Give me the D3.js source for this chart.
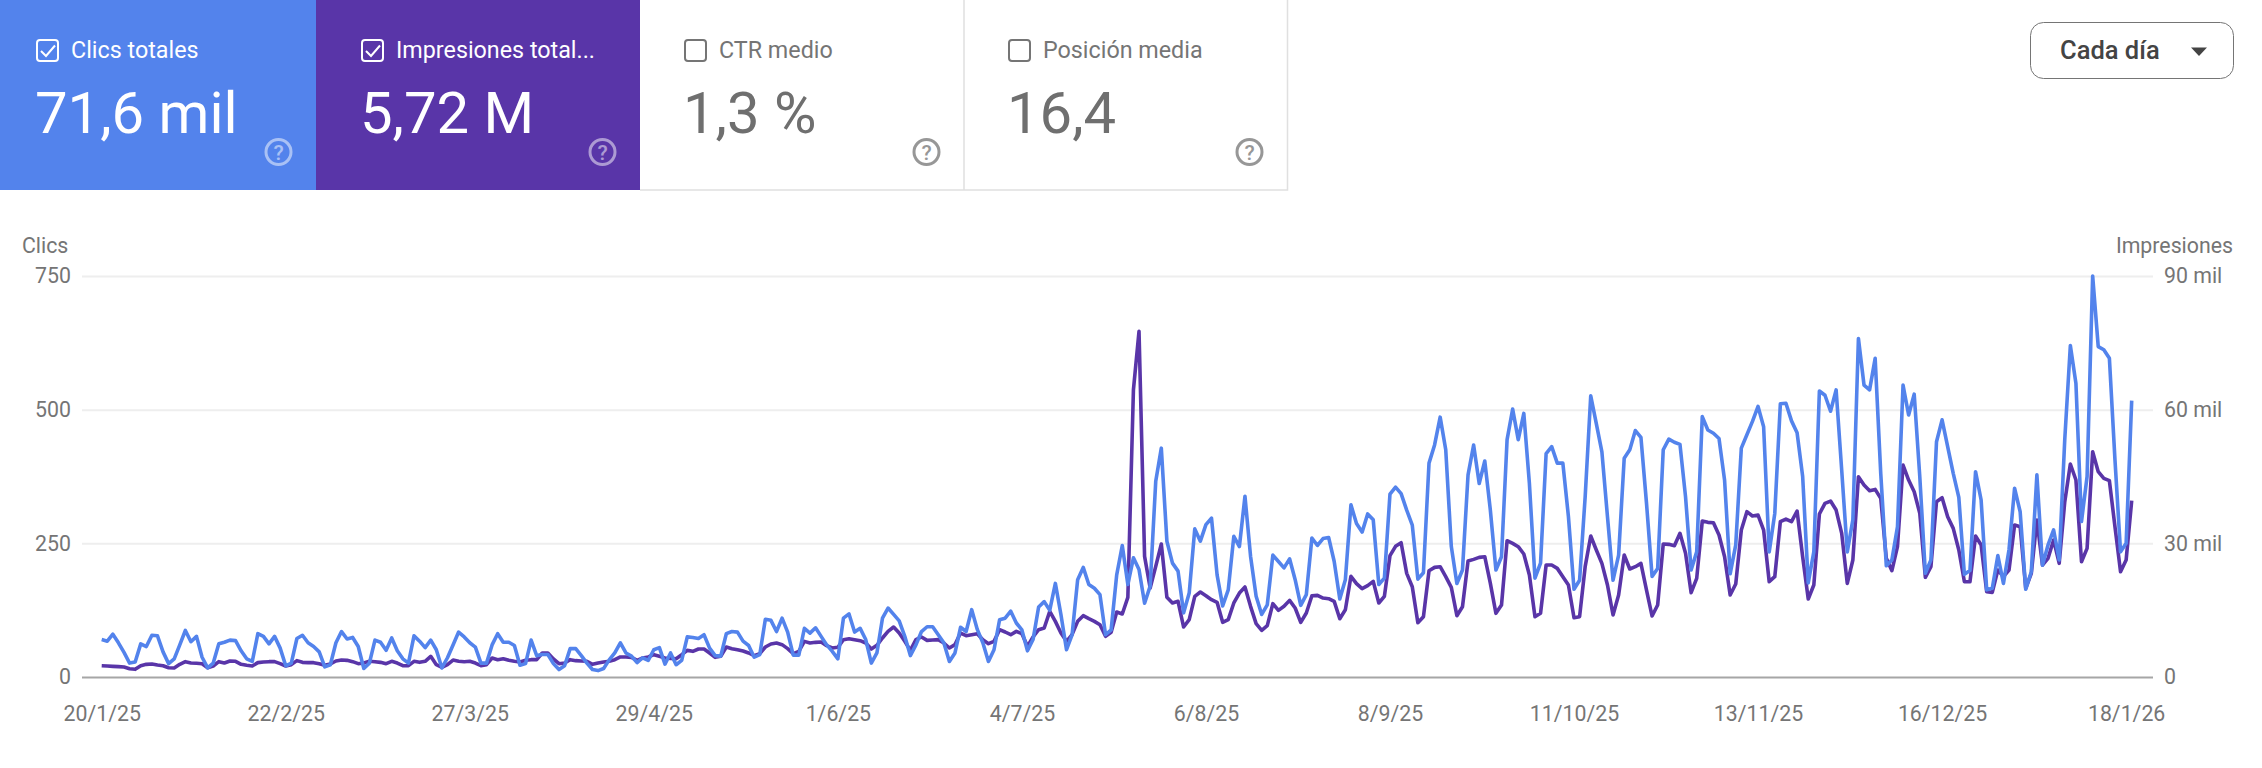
<!DOCTYPE html>
<html>
<head>
<meta charset="utf-8">
<script src="https://d3js.org/d3.v7.min.js"></script>
<style>
  body { margin: 0; background: #fff; font-family: Roboto, sans-serif; }
  svg { display: block; }
</style>
</head>
<body>
<script>
const startDate = "2025-01-20";

const clicks = [
  70,67,80,64,46,26,28,62,57,78,
  77,47,25,34,60,87,66,76,37,17,
  26,62,65,69,68,49,34,29,81,76,
  62,76,54,21,26,72,78,64,57,47,
  19,23,64,85,71,74,57,16,26,69,
  65,50,73,49,34,26,77,67,55,69,
  51,17,36,60,84,75,64,56,26,26,
  60,81,65,65,59,22,25,69,40,42,
  42,25,14,21,53,53,40,26,14,12,
  16,32,45,64,45,39,27,36,31,51,
  55,24,45,23,31,75,74,72,79,54,
  40,39,81,85,84,67,59,37,42,108,
  106,85,110,84,41,41,91,82,92,76,
  60,48,34,110,118,84,91,70,26,45,
  110,129,117,105,76,40,60,85,94,94,
  79,64,29,45,93,85,126,89,64,29,
  51,107,110,123,101,88,49,70,131,141,
  125,175,117,51,79,182,205,173,166,154,
  79,88,191,246,173,223,201,138,170,366,
  428,254,213,198,120,157,277,254,285,297,
  191,133,163,263,244,338,226,151,117,135,
  228,216,204,221,182,134,154,260,246,259,
  261,216,146,182,322,287,271,305,294,173,
  185,342,355,343,312,284,183,195,400,434,
  486,425,244,175,200,378,434,362,404,312,
  200,225,444,501,444,493,362,185,213,418,
  431,400,400,300,164,181,337,526,474,421,
  300,181,228,409,425,461,448,325,188,203,
  425,445,439,435,337,200,234,487,462,456,
  446,368,193,247,428,453,478,506,468,234,
  306,511,512,479,457,375,176,234,535,527,
  497,537,387,234,294,633,546,537,596,381,
  208,219,281,546,490,529,375,194,219,440,
  481,431,381,336,192,199,384,331,163,166,
  227,175,238,353,309,164,197,378,209,247,
  275,219,445,620,549,291,375,750,618,612,
  596,406,234,250,517
];

const impressions = [
  2540,2470,2390,2320,2240,1870,1720,2540,2840,2920,
  2690,2540,2090,2020,2840,3440,3140,3070,2990,2090,
  2470,3440,3140,3590,3520,2840,2620,2470,3220,3370,
  3440,3440,2990,2470,2770,3670,3290,3220,3220,2990,
  2620,2920,3590,3810,3740,3440,2990,3140,3520,3440,
  3290,2990,3520,3140,2540,2540,3520,3290,3520,4640,
  2770,2170,2770,3810,3520,3440,3520,3140,2540,2770,
  4260,3890,4110,3740,3520,3370,3740,3890,3890,5390,
  5390,4040,2990,3140,3890,3670,3590,3520,2840,3140,
  3370,3520,3890,4490,4490,4410,3740,4260,4490,5010,
  4640,4260,4190,4110,5010,5980,5760,6280,6280,5390,
  4410,4640,6730,6360,6130,5830,5390,4790,5240,6730,
  7410,7630,7260,6360,5240,5760,8000,7630,7780,7850,
  7030,6510,6660,8380,8600,8380,8150,7630,6280,7110,
  8750,10250,11220,9870,8000,5980,8380,8980,8230,8300,
  8380,7630,6510,7260,9870,9280,9500,9720,8380,7480,
  8000,10620,10100,9500,10250,9720,6880,8980,10620,11000,
  14740,12490,9870,8000,9500,12490,13760,13090,12490,11740,
  9130,10020,14590,14140,17880,64480,77570,27080,19970,24830,
  29850,17880,16610,16980,11220,12870,18100,19070,18250,17350,
  16760,12270,12870,16610,18850,20200,15860,11970,10470,11520,
  16460,14960,15860,17200,15480,12270,14360,18250,18330,17730,
  17580,16980,13090,15110,22590,20940,19820,20500,21470,16610,
  18100,27230,29320,30140,23260,20270,12190,13540,23860,24610,
  24760,22510,20120,13760,15780,26030,26400,26850,27000,21020,
  14290,16160,30590,29990,29250,27600,22890,13540,14290,25130,
  25130,24380,22510,20640,13310,13540,24760,31640,28500,25510,
  20640,13910,18400,27380,24240,24760,25510,19520,13690,16160,
  29850,29770,29470,32240,27750,18920,22140,35010,34710,34630,
  31860,27000,18400,20870,32990,37100,36130,36350,32990,21390,
  22510,34860,35460,34860,37250,27000,17500,20640,36580,38970,
  39490,37470,32240,21020,26250,44950,43080,41810,42110,40090,
  26630,23860,29250,47570,44210,41590,36730,22370,24760,39350,
  40240,35980,33360,28500,21390,21390,31640,29620,19150,19000,
  24010,22510,24010,34110,33730,19900,23260,35230,25130,26630,
  30740,25510,39350,47800,44210,25880,28870,50560,46080,44580,
  44060,33730,23640,26250,39570
];

const xTickLabels = ["20/1/25","22/2/25","27/3/25","29/4/25","1/6/25","4/7/25","6/8/25","8/9/25","11/10/25","13/11/25","16/12/25","18/1/26"];
const clickTicks = [0, 250, 500, 750];
const impressionTicks = [0, 30000, 60000, 90000];

const cardLabels = ["Clics totales", "Impresiones total...", "CTR medio", "Posición media"];
const cardValues = ["71,6 mil", "5,72 M", "1,3 %", "16,4"];
const cardChecked = [true, true, false, false];

const blue = "#5383ec";
const purple = "#5935a8";
const grey = "#757575";

const width = 2262, height = 768;

const svg = d3.select("body").append("svg")
    .attr("width", width)
    .attr("height", height);

// metric cards on top
const cardX = [0, 316, 640, 964, 1287];
const cardPad = [36, 45, 44, 44];
const cardFill = [blue, purple, "#fff", "#fff"];

const cards = svg.selectAll("g.card")
    .data(cardLabels)
    .join("g")
    .attr("class", "card")
    .attr("transform", (d, i) => `translate(${cardX[i]},0)`);

cards.append("rect")
    .attr("width", (d, i) => cardX[i + 1] - cardX[i])
    .attr("height", 190)
    .attr("fill", (d, i) => cardFill[i]);

// thin borders of the two unselected cards
svg.append("path")
    .attr("fill", "none")
    .attr("stroke", "#e0e0e0")
    .attr("stroke-width", 1.5)
    .attr("d", "M640,190H1287.5V0M964,0V190");

cards.each(function(d, i) {
    const g = d3.select(this);
    const fg = cardChecked[i] ? "#fff" : grey;
    const x = cardPad[i];

    g.append("rect")
        .attr("x", x + 1).attr("y", 40)
        .attr("width", 21).attr("height", 21)
        .attr("rx", 3)
        .attr("fill", "none")
        .attr("stroke", fg)
        .attr("stroke-width", 2);
    if (cardChecked[i]) {
        g.append("path")
            .attr("d", `M${x + 5},${51}l5,5l9,-10.5`)
            .attr("fill", "none")
            .attr("stroke", "#fff")
            .attr("stroke-width", 2);
    }

    g.append("text")
        .attr("x", x + 35).attr("y", 58)
        .attr("font-size", 23.3)
        .attr("fill", fg)
        .text(d);

    g.append("text")
        .attr("x", x - 1).attr("y", 133)
        .attr("font-size", 58)
        .attr("font-weight", 400)
        .attr("fill", cardChecked[i] ? "#fff" : "#6f6f6f")
        .text(cardValues[i]);

    // help icon
    const icon = g.append("g")
        .attr("transform", `translate(${cardX[i + 1] - cardX[i] - 37.5},152)`)
        .attr("opacity", cardChecked[i] ? 0.5 : 0.75);
    icon.append("circle")
        .attr("r", 12.5)
        .attr("fill", "none")
        .attr("stroke", cardChecked[i] ? "#fff" : "#757575")
        .attr("stroke-width", 3);
    icon.append("text")
        .attr("text-anchor", "middle")
        .attr("y", 7.5)
        .attr("font-size", 21)
        .attr("font-weight", 500)
        .attr("fill", cardChecked[i] ? "#fff" : "#757575")
        .text("?");
});

// "Cada día" dropdown
svg.append("rect")
    .attr("x", 2030.5).attr("y", 22.5)
    .attr("width", 203).attr("height", 56)
    .attr("rx", 13)
    .attr("fill", "#fff")
    .attr("stroke", "#757575")
    .attr("stroke-width", 1);
svg.append("text")
    .attr("x", 2060).attr("y", 59)
    .attr("font-size", 25.5)
    .attr("font-weight", 500)
    .attr("fill", "#444")
    .text("Cada día");
svg.append("path")
    .attr("d", "M2191,47.5h16l-8,8.5z")
    .attr("fill", "#444");

// chart scales
const dates = clicks.map((d, i) => d3.utcDay.offset(new Date(startDate), i));
const parseTick = d3.utcParse("%-d/%-m/%y");

const x = d3.scaleUtc()
    .domain(d3.extent(dates))
    .range([101.7, 2131.7]);

const yClicks = d3.scaleLinear()
    .domain([0, 750])
    .range([677, 276]);

const yImpr = d3.scaleLinear()
    .domain([0, 90000])
    .range([677, 276]);

const fmtImpr = d => d === 0 ? "0" : (d / 1000) + " mil";

// gridlines + left labels
const leftAxis = svg.append("g")
    .attr("transform", "translate(82,0)")
    .call(d3.axisLeft(yClicks).tickValues(clickTicks).tickSize(-2071).tickPadding(11));
leftAxis.select(".domain").remove();
leftAxis.selectAll("line")
    .attr("stroke", d => d === 0 ? "#a6a6a6" : "#eeeeee")
    .attr("stroke-width", 2);
leftAxis.selectAll("text")
    .attr("font-family", "Roboto, sans-serif")
    .attr("font-size", 21.3)
    .attr("fill", grey);

// right labels
const rightAxis = svg.append("g")
    .attr("transform", "translate(2153,0)")
    .call(d3.axisRight(yImpr).tickValues(impressionTicks).tickFormat(fmtImpr).tickSize(0).tickPadding(11));
rightAxis.select(".domain").remove();
rightAxis.selectAll("text")
    .attr("font-family", "Roboto, sans-serif")
    .attr("font-size", 21.3)
    .attr("fill", grey);

// date labels
const bottomAxis = svg.append("g")
    .attr("transform", "translate(0,677)")
    .call(d3.axisBottom(x)
        .tickValues(xTickLabels.map(parseTick))
        .tickFormat((d, i) => xTickLabels[i])
        .tickSize(0)
        .tickPadding(29));
bottomAxis.select(".domain").remove();
bottomAxis.selectAll("text")
    .attr("font-family", "Roboto, sans-serif")
    .attr("font-size", 21.3)
    .attr("fill", grey);

// axis titles
svg.append("text")
    .attr("x", 22).attr("y", 253)
    .attr("font-size", 21.3)
    .attr("fill", grey)
    .text("Clics");
svg.append("text")
    .attr("x", 2233).attr("y", 253)
    .attr("text-anchor", "end")
    .attr("font-size", 21.3)
    .attr("fill", grey)
    .text("Impresiones");

// the two lines, clicks on top
const lineImpr = d3.line()
    .x((d, i) => x(dates[i]))
    .y(d => yImpr(d))
    .curve(d3.curveLinear);
const lineClicks = d3.line()
    .x((d, i) => x(dates[i]))
    .y(d => yClicks(d))
    .curve(d3.curveLinear);

svg.append("path")
    .datum(impressions)
    .attr("fill", "none")
    .attr("stroke", purple)
    .attr("stroke-width", 3.6)
    .attr("stroke-linejoin", "round")
    .attr("d", lineImpr);

svg.append("path")
    .datum(clicks)
    .attr("fill", "none")
    .attr("stroke", blue)
    .attr("stroke-width", 3.6)
    .attr("stroke-linejoin", "round")
    .attr("d", lineClicks);
</script>
</body>
</html>
